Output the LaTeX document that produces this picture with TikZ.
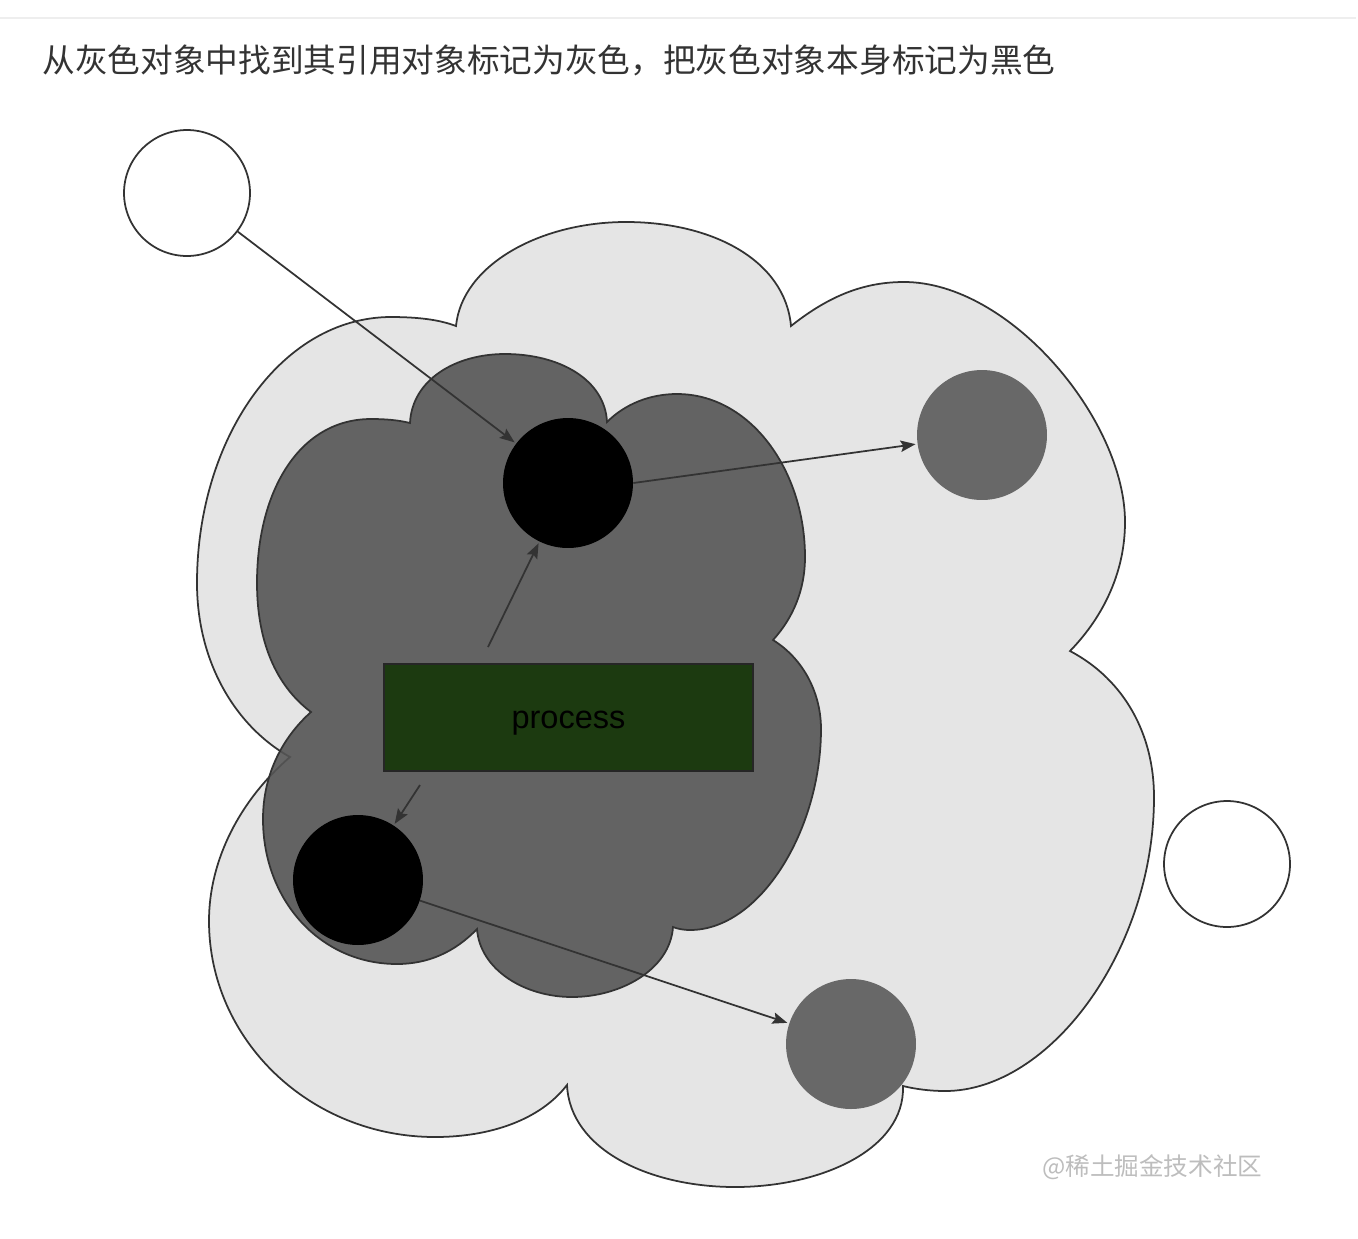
\documentclass[tikz,border=0pt]{standalone}
\usepackage{fontspec}
\usepackage{xcolor}
\usepackage{tikz}
\usetikzlibrary{arrows.meta,positioning}

\newfontfamily\cjkfont{Noto Sans CJK SC}
\newfontfamily\arialfont{Liberation Sans}

\definecolor{cloudlight}{HTML}{E5E5E5}
\definecolor{clouddark}{HTML}{555555}
\definecolor{outline}{HTML}{333333}
\definecolor{grayobjfill}{HTML}{686868}
\definecolor{procgreen}{HTML}{1C3A10}
\definecolor{titlegray}{HTML}{333333}
\definecolor{markgray}{HTML}{BDBDBD}
\definecolor{rulegray}{HTML}{EEEEEE}

\begin{document}
\begin{tikzpicture}[x=0.02cm, y=-0.02cm, shorten >=1pt,
    >={Stealth[length=8.5pt, width=6.5pt, inset=1.5pt]},
    whiteobj/.style={circle, draw=outline, line width=1pt, fill=white, minimum size=2.52cm, inner sep=0pt},
    blackobj/.style={circle, fill=black, minimum size=2.6cm, inner sep=0pt},
    grayobj/.style={circle, fill=grayobjfill, minimum size=2.6cm, inner sep=0pt},
    procbox/.style={rectangle, draw=black!85, line width=0.8pt, fill=procgreen, minimum width=7.38cm, minimum height=2.14cm, text=black, font=\arialfont\fontsize{18.5}{22}\selectfont},
    cloud/.style={draw=outline, line width=1pt}]
   \useasboundingbox (0,0) rectangle (1358,1238);
   \draw[rulegray, line width=1.2pt] (0,18) -- (1358,18);
   \node[anchor=west, inner sep=0pt, text=titlegray, font=\cjkfont\fontsize{18.6}{22}\selectfont] (title) at (42,60) {从灰色对象中找到其引用对象标记为灰色，把灰色对象本身标记为黑色};

   % outer (light) cloud
   \path[cloud, fill=cloudlight]
    (290,757) .. controls (238,728) and (197,665) .. (197,583)
              .. controls (197,440) and (280,318) .. (390,317)
              .. controls (420,317) and (440,320) .. (456,326)
              .. controls (462,265) and (540,222) .. (626,222)
              .. controls (712,222) and (785,260) .. (791,326)
              .. controls (830,295) and (865,282) .. (904,282)
              .. controls (1010,282) and (1125,420) .. (1125,522)
              .. controls (1125,570) and (1105,615) .. (1070,651)
              .. controls (1125,680) and (1154,735) .. (1154,797)
              .. controls (1154,950) and (1050,1091) .. (945,1091)
              .. controls (930,1091) and (915,1089) .. (903,1086)
              .. controls (905,1150) and (820,1187) .. (735,1187)
              .. controls (650,1187) and (570,1150) .. (567,1085)
              .. controls (540,1120) and (490,1137) .. (435,1137)
              .. controls (310,1137) and (209,1040) .. (209,921)
              .. controls (209,860) and (240,800) .. (290,757) -- cycle;

   % inner (dark) cloud
   \path[cloud, fill=clouddark, fill opacity=0.9]
    (311,712) .. controls (275,685) and (257,640) .. (257,583)
              .. controls (257,490) and (300,419) .. (371,419)
              .. controls (385,419) and (398,420) .. (410,423)
              .. controls (412,380) and (455,354) .. (505,354)
              .. controls (560,354) and (605,380) .. (607,422)
              .. controls (625,404) and (650,394) .. (677,394)
              .. controls (750,394) and (805,470) .. (805,557)
              .. controls (805,590) and (793,618) .. (773,640)
              .. controls (805,660) and (821,695) .. (821,729)
              .. controls (821,830) and (760,930) .. (690,930)
              .. controls (684,930) and (678,929) .. (673,927)
              .. controls (670,970) and (620,997) .. (572,997)
              .. controls (525,997) and (480,970) .. (477,929)
              .. controls (455,952) and (428,964) .. (397,964)
              .. controls (320,964) and (263,900) .. (263,819)
              .. controls (263,775) and (282,738) .. (311,712) -- cycle;

   \node[whiteobj] (w1) at (187,193) {};
   \node[blackobj] (b1) at (568,483) {};
   \node[grayobj]  (g1) at (982,435) {};
   \node[blackobj] (b2) at (358,880) {};
   \node[grayobj]  (g2) at (851,1044) {};
   \node[whiteobj] (w2) at (1227,864) {};
   \node[procbox]  (proc) at (568.5,717.5) {\raisebox{-6.5pt}[0pt][0pt]{process}};
   \coordinate (pout1) at (488,647);
   \coordinate (pout2) at (420,785);

   \path[->, color=outline, line width=1pt]
    (w1)      edge (b1)
    (b1.east) edge (g1)
    (pout1)   edge (b1)
    (pout2)   edge (b2)
    (b2)      edge (g2);

   \node[anchor=west, text=markgray, font=\cjkfont\fontsize{14}{16}\selectfont] (mark) at (1036,1167) {@稀土掘金技术社区};
\end{tikzpicture}
\end{document}
